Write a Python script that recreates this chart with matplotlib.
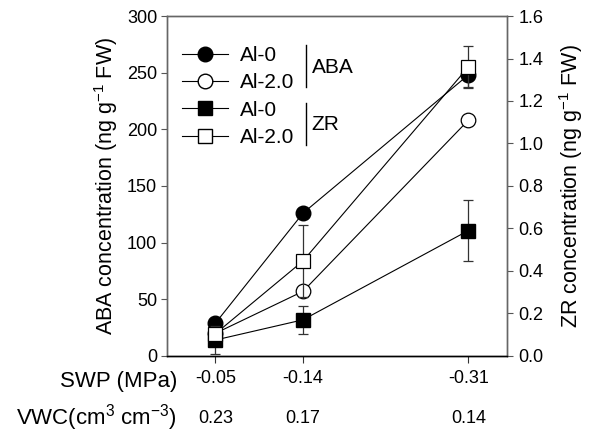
import matplotlib
matplotlib.use("Agg")
import matplotlib.pyplot as plt
from matplotlib.lines import Line2D

plt.rcParams['font.family'] = ['Liberation Sans', 'DejaVu Sans']
plt.rcParams['mathtext.fontset'] = 'custom'
plt.rcParams['mathtext.rm'] = 'Liberation Sans'
plt.rcParams['mathtext.it'] = 'Liberation Sans:italic'
plt.rcParams['mathtext.bf'] = 'Liberation Sans:bold'
plt.rcParams['mathtext.sf'] = 'Liberation Sans'

# Data
swp = [0.05, 0.14, 0.31]
swp_labels = ['-0.05', '-0.14', '-0.31']
vwc_labels = ['0.23', '0.17', '0.14']

aba_al0 = [29, 126, 248]
aba_al0_err = [0, 0, 11]
aba_al2 = [20, 57, 208]
aba_al2_err = [0, 0, 0]

zr_al0 = [0.075, 0.17, 0.59]
zr_al0_err = [0.065, 0.065, 0.145]
zr_al2 = [0.105, 0.447, 1.36]
zr_al2_err = [0.0, 0.17, 0.10]

fig = plt.figure(figsize=(5.96, 4.33), dpi=100)
ax = fig.add_axes([0.280, 0.178, 0.571, 0.785])
ax2 = ax.twinx()

ms = 10.5
lw = 0.8
common = dict(color='black', lw=lw, ms=ms, capsize=3.5, elinewidth=0.9,
              ecolor='#333333', capthick=0.9)

ax.errorbar(swp, aba_al2, yerr=aba_al2_err, marker='o', mfc='white', mec='black',
            mew=0.9, zorder=3, **common)
ax.errorbar(swp, aba_al0, yerr=aba_al0_err, marker='o', mfc='black', mec='black',
            zorder=4, **common)
ax2.errorbar(swp, zr_al0, yerr=zr_al0_err, marker='s', mfc='black', mec='black',
             zorder=3, **common)
ax2.errorbar(swp, zr_al2, yerr=zr_al2_err, marker='s', mfc='white', mec='black',
             mew=0.9, zorder=4, **common)

ax.set_xlim(0.0, 0.35)
ax.set_ylim(0, 300)
ax2.set_ylim(0, 1.6)
ax.set_yticks([0, 50, 100, 150, 200, 250, 300])
zr_ticks = [0.0, 0.2, 0.4, 0.6, 0.8, 1.0, 1.2, 1.4, 1.6]
ax2.set_yticks(zr_ticks)
ax2.set_yticklabels([f"{v:.1f}" for v in zr_ticks])
ax.set_xticks(swp)
ax.set_xticklabels(swp_labels)

tick_fs = 13
ax.tick_params(axis='y', direction='out', length=4, labelsize=tick_fs, color='#555555', pad=3)
ax2.tick_params(axis='y', direction='out', length=4, labelsize=tick_fs, color='#555555', pad=4)
ax.tick_params(axis='x', direction='out', length=5, labelsize=13, pad=5, color='#333333')

for a in (ax, ax2):
    for s in ['left', 'right', 'top']:
        a.spines[s].set_color('#666666')
        a.spines[s].set_linewidth(1.0)
    a.spines['bottom'].set_color('black')
    a.spines['bottom'].set_linewidth(1.0)

ax.set_ylabel('ABA concentration (ng g$^{-1}$ FW)', fontsize=15.5, labelpad=5)
ax2.set_ylabel('ZR concentration (ng g$^{-1}$ FW)', fontsize=15.5, labelpad=10)

# Row labels under the x axis
ax.text(0.03, -0.075, 'SWP (MPa)', transform=ax.transAxes, ha='right', va='center', fontsize=16)
ax.text(0.03, -0.182, 'VWC(cm$^3$ cm$^{-3}$)', transform=ax.transAxes, ha='right', va='center', fontsize=16)
for x, lab in zip(swp, vwc_labels):
    ax.text(x, -0.185, lab, transform=ax.get_xaxis_transform(), ha='center', va='center', fontsize=13)

# Legend
handles = [
    Line2D([], [], color='black', lw=lw, marker='o', ms=ms, mfc='black', mec='black'),
    Line2D([], [], color='black', lw=lw, marker='o', ms=ms, mfc='white', mec='black'),
    Line2D([], [], color='black', lw=lw, marker='s', ms=ms, mfc='black', mec='black'),
    Line2D([], [], color='black', lw=lw, marker='s', ms=ms, mfc='white', mec='black'),
]
labels = ['Al-0', 'Al-2.0', 'Al-0', 'Al-2.0']
leg = ax2.legend(handles, labels, loc='upper left', bbox_to_anchor=(0.044, 0.912),
                 frameon=False, fontsize=15, handlelength=2.2, handletextpad=0.6,
                 labelspacing=0.4, borderpad=0, borderaxespad=0)

ax2.plot([0.409, 0.409], [0.791, 0.915], transform=ax.transAxes, color='black', lw=1.0, clip_on=False)
ax2.plot([0.409, 0.409], [0.621, 0.744], transform=ax.transAxes, color='black', lw=1.0, clip_on=False)
ax2.text(0.425, 0.850, 'ABA', transform=ax.transAxes, ha='left', va='center', fontsize=15)
ax2.text(0.425, 0.680, 'ZR', transform=ax.transAxes, ha='left', va='center', fontsize=15)

fig.savefig('out.png', dpi=100)
